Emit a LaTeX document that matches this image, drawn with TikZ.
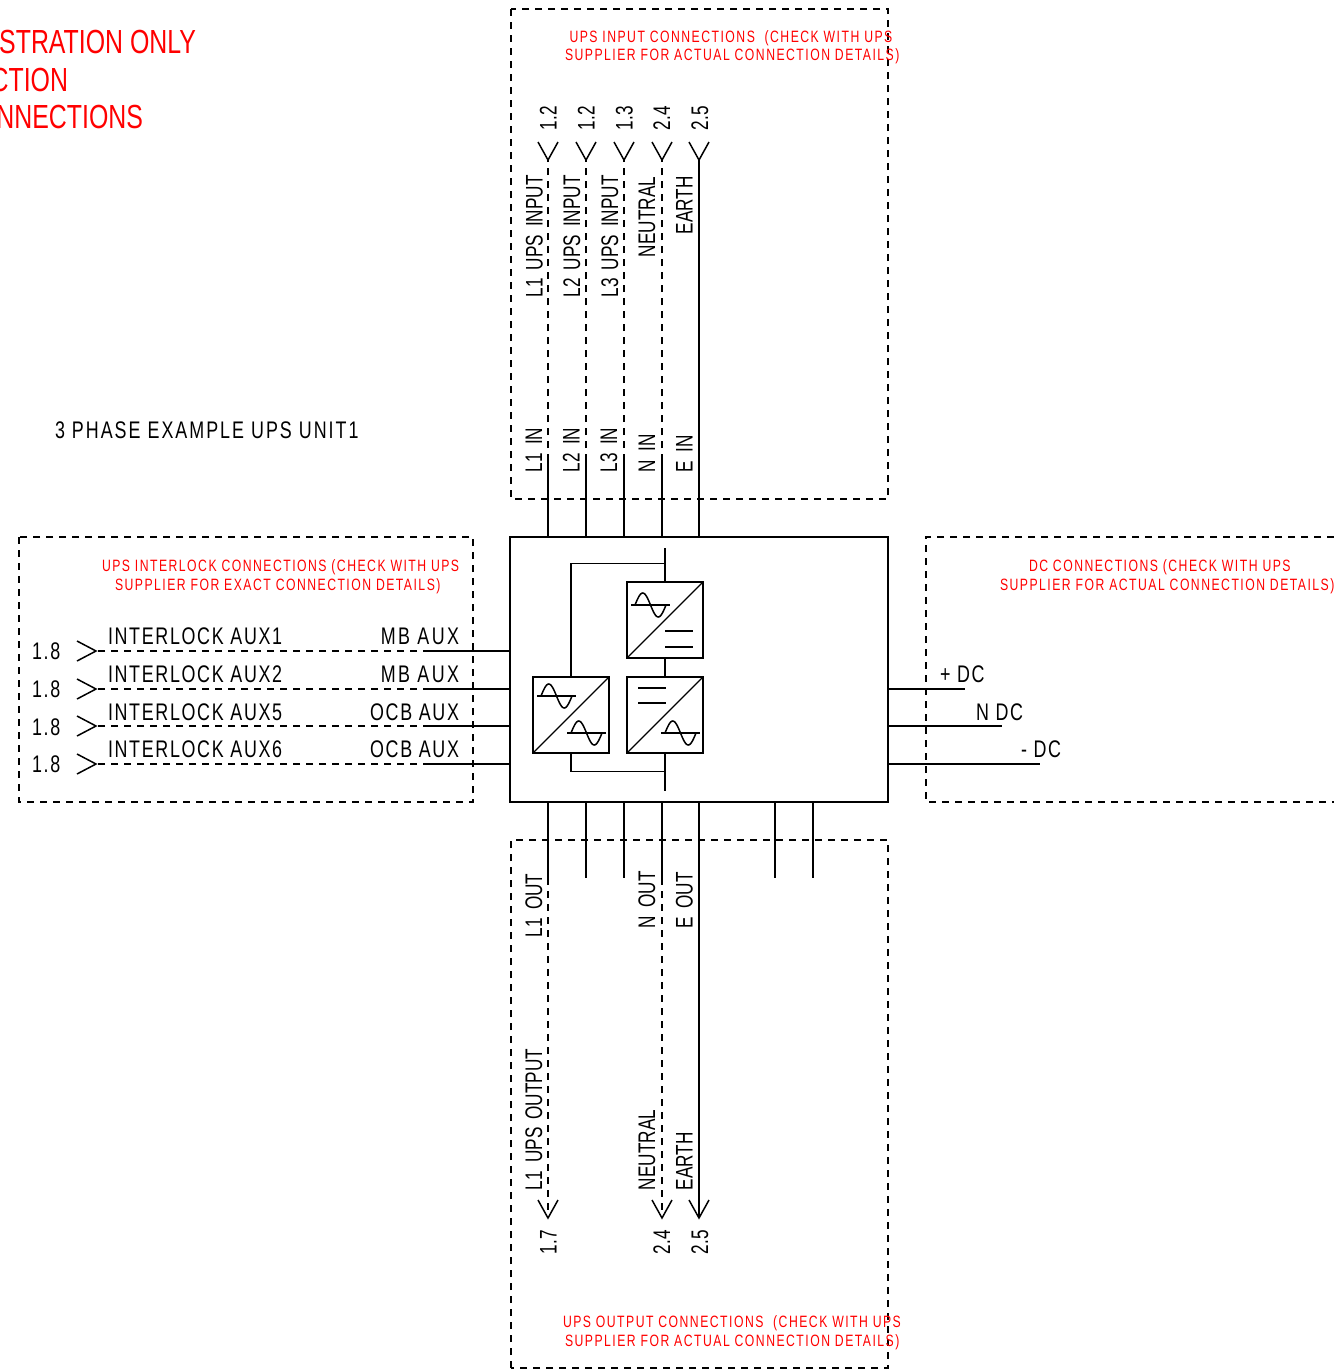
\documentclass[tikz,border=0pt]{standalone}
\usepackage{fontspec}
\newfontfamily\cadfont[FakeStretch=.745,LetterSpace=7]{Liberation Sans}
\newfontfamily\cadwide[FakeStretch=.745,LetterSpace=10]{Liberation Sans}
\newfontfamily\cadtitle[FakeStretch=.745,LetterSpace=8.4]{Liberation Sans}
\newfontfamily\cadnote[FakeStretch=.745,LetterSpace=9]{Liberation Sans}
\newfontfamily\cadnarrow[FakeStretch=.715,WordSpace=1.7]{Liberation Sans}
\newfontfamily\cadwarn[FakeStretch=.745]{Liberation Sans}
\tikzset{
  wire/.style={line width=1.5pt},
  dashwire/.style={line width=1.2pt,dash pattern=on 7pt off 6pt},
  zone/.style={line width=1.2pt,dash pattern=on 7pt off 6pt},
  conv/.style={draw,line width=1.5pt,minimum size=76pt,inner sep=0pt,outer sep=0pt},
  lab/.style={inner sep=0pt,outer sep=0pt,anchor=base west,font=\cadfont\fontsize{24}{24}\selectfont},
  labr/.style={lab,anchor=base east},
  labw/.style={labr,font=\cadwide\fontsize{24}{24}\selectfont},
  vlab/.style={inner sep=0pt,outer sep=0pt,anchor=base west,rotate=90,font=\cadnarrow\fontsize{24}{24}\selectfont},
  note/.style={inner sep=0pt,outer sep=0pt,anchor=base west,text=red,font=\cadnote\fontsize{16.4}{16.4}\selectfont},
  warn/.style={inner sep=0pt,outer sep=0pt,anchor=base east,text=red,font=\cadwarn\fontsize{33.4}{33.4}\selectfont}
}
% wave symbol: left end of the axis at (#1,#2)
\newcommand{\sinewave}[2]{%
  \draw[wire] (#1,#2) -- ++(39,0);
  \draw[wire] plot[domain=0:360,samples=37,smooth,variable=\t] ({#1+4+\t*31/360},{#2-12*sin(\t)});
}
\begin{document}
\begin{tikzpicture}[x=1pt,y=-1pt]
    \clip (0,0) rectangle (1334,1369);

    % zones
    \draw[zone] (511,9) rectangle (888,499);
    \draw[zone] (19,537) rectangle (473,802);
    \draw[zone] (1334,537) -- (926,537) -- (926,802) -- (1334,802);
    \draw[zone] (511,1368) rectangle (888,840);

    % unit and converters
    \node[draw,line width=1.8pt,minimum width=378pt,minimum height=265pt,inner sep=0pt,outer sep=0pt] (ups) at (699,669.5) {};
    \node[conv] (convT) at (665,620) {};
    \node[conv] (convL) at (571,715) {};
    \node[conv] (convB) at (665,715) {};
    \foreach \c in {convT,convL,convB}
        \draw[line width=1.3pt] (\c.south west) -- (\c.north east);
    \coordinate (busT) at (665,548);
    \coordinate (tapT) at (665,563.5);
    \coordinate (busB) at (665,791);
    \coordinate (tapB) at (665,771.5);
    \draw[wire] (busT) -- (convT.north);
    \draw[wire] (convT.south) -- (convB.north);
    \draw[wire] (convB.south) -- (busB);
    \draw[wire] (convL.north) |- (tapT);
    \draw[wire] (convL.south) |- (tapB);
    \sinewave{631}{605}
    \sinewave{537}{696}
    \sinewave{567}{733}
    \sinewave{661}{733}
    \draw[wire] (665,631) -- (693,631);
    \draw[wire] (665,647) -- (693,647);
    \draw[wire] (638,688) -- (666,688);
    \draw[wire] (638,703) -- (666,703);

    % input wires
    \foreach \n/\x in {1/548,2/586,3/624,4/662}{
        \coordinate (inA\n) at (\x,160);
        \coordinate (inB\n) at (\x,461);
        \draw[dashwire] (inB\n) -- (inA\n);
        \draw[wire] (inB\n) -- (inB\n |- ups.north);
        \draw[wire] (inA\n) ++(-10,-18) -- (inA\n) -- ++(10,-18);
    }
    \coordinate (inA5) at (699,160);
    \draw[wire] (inA5 |- ups.north) -- (inA5);
    \draw[wire] (inA5) ++(-10,-18) -- (inA5) -- ++(10,-18);

    % output wires
    \foreach \n/\x in {1/548,2/586,3/624,4/662,6/775,7/813}{
        \coordinate (outB\n) at (\x,878);
        \draw[wire] (outB\n |- ups.south) -- (outB\n);
    }
    \coordinate (outA1) at (548,1218);
    \coordinate (outA4) at (662,1218);
    \coordinate (outA5) at (699,1218);
    \draw[dashwire] (outB1) -- (outA1);
    \draw[dashwire] (outB4) -- (outA4);
    \draw[wire] (outA5 |- ups.south) -- (outA5);
    \foreach \n in {1,4,5}
        \draw[wire] (outA\n) ++(-10,-18) -- (outA\n) -- ++(10,-18);

    % interlock wires
    \foreach \n/\y/\a/\b/\s/\base in {1/651/1/MB/labw/644,2/689/2/MB/labw/682,3/726/5/OCB/labr/720,4/764/6/OCB/labr/757}{
        \coordinate (auxA\n) at (96,\y);
        \coordinate (auxB\n) at (430,\y);
        \draw[dashwire] (auxB\n) -- (auxA\n);
        \draw[wire] (auxB\n) -- (auxB\n -| ups.west);
        \draw[wire] (auxA\n) ++(-19,-10) -- (auxA\n) -- ++(-19,10);
        \node[lab] (auxNum\n) at (32,\base+15) {1.8};
        \node[lab] (auxName\n) at (108,\base) {INTERLOCK AUX\a};
        \node[\s] (auxType\n) at (459,\base) {\b{} AUX};
    }

    % dc wires
    \coordinate (dcA) at (965,689);
    \coordinate (dcB) at (1002,726);
    \coordinate (dcC) at (1040,764);
    \draw[wire] (dcA -| ups.east) -- (dcA);
    \draw[wire] (dcB -| ups.east) -- (dcB);
    \draw[wire] (dcC -| ups.east) -- (dcC);
    \node[lab] (dcLabA) at (940,682) {+ DC};
    \node[lab] (dcLabB) at (976,720) {N DC};
    \node[lab] (dcLabC) at (1021,757) {- DC};

    % vertical labels
    \foreach \n/\x/\t in {a/542.5/L1 UPS INPUT,b/580/L2 UPS INPUT,c/618/L3 UPS INPUT}
        \node[vlab] (top\n) at (\x,297.5) {\t};
    \node[vlab] (topd) at (655,257) {NEUTRAL};
    \node[vlab] (tope) at (692.7,234) {EARTH};
    \foreach \n/\x/\t in {a/542/L1 IN,b/579.5/L2 IN,c/617/L3 IN,d/655/N IN,e/692.7/E IN}
        \node[vlab] (inLab\n) at (\x,472) {\t};
    \foreach \n/\x/\t in {a/556.7/1.2,b/594.5/1.2,c/632.5/1.3,d/670/2.4,e/708/2.5}
        \node[vlab] (refIn\n) at (\x,130) {\t};
    \node[vlab] (outLaba) at (542,937) {L1 OUT};
    \node[vlab] (outLabd) at (655,928) {N OUT};
    \node[vlab] (outLabe) at (692.7,928) {E OUT};
    \node[vlab] (outNamea) at (542,1190) {L1 UPS OUTPUT};
    \node[vlab] (outNamed) at (655,1190) {NEUTRAL};
    \node[vlab] (outNamee) at (692.7,1190) {EARTH};
    \foreach \n/\x/\t in {a/556.7/1.7,d/670/2.4,e/708/2.5}
        \node[vlab] (refOut\n) at (\x,1254) {\t};

    % notes
    \node[note] (noteInA) at (569.5,42) {UPS INPUT CONNECTIONS\ \ (CHECK WITH UPS};
    \node[note] (noteInB) at (565,60) {SUPPLIER FOR ACTUAL CONNECTION DETAILS)};
    \node[note] (noteAuxA) at (102,571) {UPS INTERLOCK CONNECTIONS (CHECK WITH UPS};
    \node[note] (noteAuxB) at (115,590) {SUPPLIER FOR EXACT CONNECTION DETAILS)};
    \node[note] (noteDcA) at (1029,571) {DC CONNECTIONS (CHECK WITH UPS};
    \node[note] (noteDcB) at (1000,590) {SUPPLIER FOR ACTUAL CONNECTION DETAILS)};
    \node[note] (noteOutA) at (563,1327) {UPS OUTPUT CONNECTIONS\ \ (CHECK WITH UPS};
    \node[note] (noteOutB) at (565,1346) {SUPPLIER FOR ACTUAL CONNECTION DETAILS)};

    \node[lab,font=\cadtitle\fontsize{24}{24}\selectfont] (title) at (55,438) {3 PHASE EXAMPLE UPS UNIT1};
    \node[warn] (warnA) at (196,53) {STRATION ONLY};
    \node[warn] (warnB) at (68,91) {CTION};
    \node[warn] (warnC) at (143,128.5) {NNECTIONS};
\end{tikzpicture}
\end{document}
